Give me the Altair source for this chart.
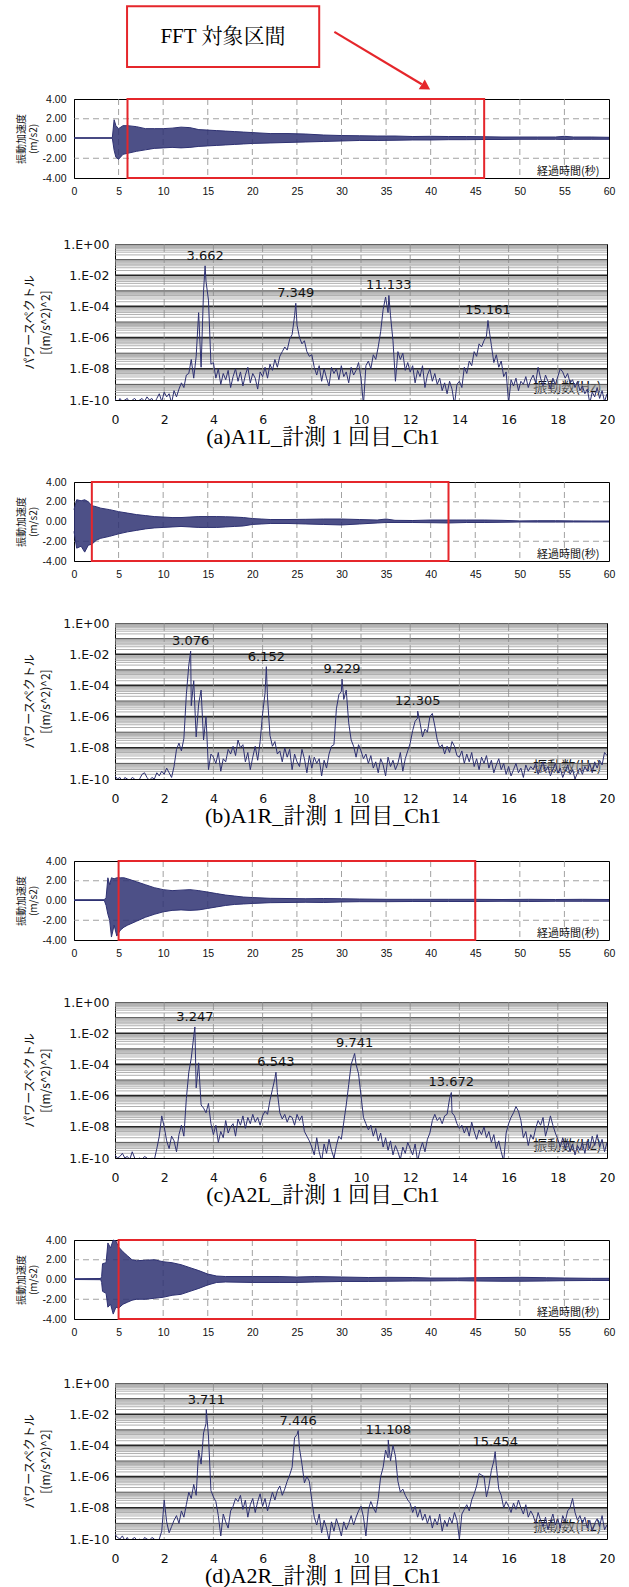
import altair as alt
import pandas as pd

# ---------------------------------------------------------------------------
# Acceleration records: envelope of the oscillation (time [s], upper, lower [m/s2])
# ---------------------------------------------------------------------------
ENV_A = [
    (0.0, 0.08, 0.02), (4.3, 0.08, 0.02), (4.5, 1.9, -1.2), (4.7, 1.3, -1.9), (5.0, 1.0, -2.1),
    (5.5, 1.3, -1.6), (6.0, 1.3, -1.5), (7.0, 1.2, -1.3), (8.0, 1.0, -1.15), (9.0, 1.0, -1.0),
    (10.0, 1.0, -0.95), (11.0, 1.05, -0.9), (12.0, 1.15, -0.95), (13.0, 1.1, -0.9), (14.0, 0.9, -0.8),
    (15.0, 0.85, -0.75), (16.0, 0.8, -0.7), (17.0, 0.75, -0.65), (18.0, 0.7, -0.6), (19.0, 0.65, -0.55),
    (20.0, 0.6, -0.5), (22.0, 0.5, -0.45), (24.0, 0.5, -0.4), (26.0, 0.45, -0.35), (28.0, 0.35, -0.3),
    (30.0, 0.3, -0.25), (32.0, 0.28, -0.2), (34.0, 0.25, -0.2), (36.0, 0.25, -0.18), (38.0, 0.2, -0.15),
    (40.0, 0.22, -0.15), (42.0, 0.2, -0.12), (44.0, 0.2, -0.12), (46.0, 0.18, -0.1), (48.0, 0.15, -0.1),
    (50.0, 0.15, -0.08), (52.0, 0.15, -0.08), (54.0, 0.15, -0.08), (55.0, 0.22, -0.1), (56.0, 0.15, -0.08),
    (58.0, 0.15, -0.08), (60.0, 0.12, -0.08),
]
ENV_B = [
    (0.0, 1.2, -1.0), (0.3, 2.2, -2.7), (0.8, 2.1, -2.5), (1.2, 2.2, -3.1), (1.6, 2.0, -2.4),
    (2.0, 1.6, -2.3), (2.5, 1.5, -1.9), (3.0, 1.35, -1.7), (4.0, 1.2, -1.5), (5.0, 1.0, -1.25),
    (6.0, 0.85, -1.05), (7.0, 0.7, -0.9), (8.0, 0.6, -0.75), (9.0, 0.5, -0.65), (10.0, 0.45, -0.6),
    (11.0, 0.4, -0.55), (12.0, 0.4, -0.5), (13.0, 0.45, -0.55), (14.0, 0.5, -0.6), (15.0, 0.5, -0.6),
    (16.0, 0.5, -0.6), (17.0, 0.48, -0.55), (18.0, 0.45, -0.5), (19.0, 0.4, -0.45), (20.0, 0.3, -0.3),
    (21.0, 0.25, -0.25), (22.0, 0.2, -0.2), (24.0, 0.2, -0.2), (26.0, 0.22, -0.25), (28.0, 0.25, -0.3),
    (30.0, 0.25, -0.35), (32.0, 0.2, -0.25), (34.0, 0.15, -0.15), (35.0, 0.25, -0.1), (36.0, 0.12, -0.1),
    (38.0, 0.1, -0.1), (40.0, 0.15, -0.12), (42.0, 0.15, -0.15), (44.0, 0.15, -0.1), (46.0, 0.15, -0.1),
    (48.0, 0.12, -0.08), (50.0, 0.06, -0.05), (52.0, 0.08, -0.06), (54.0, 0.08, -0.06), (56.0, 0.06, -0.05),
    (58.0, 0.05, -0.05), (60.0, 0.05, -0.05),
]
ENV_C = [
    (0.0, 0.08, 0.0), (3.4, 0.08, 0.0), (3.6, 0.3, -0.5), (3.8, 2.3, -1.4), (4.0, 1.6, -2.0),
    (4.2, 2.3, -3.7), (4.5, 2.2, -2.5), (4.8, 2.3, -3.6), (5.2, 2.3, -3.0), (5.6, 2.3, -2.7),
    (6.0, 2.2, -2.5), (7.0, 1.9, -2.1), (8.0, 1.6, -1.7), (9.0, 1.3, -1.4), (10.0, 1.1, -1.15),
    (11.0, 1.0, -1.0), (12.0, 1.05, -0.95), (13.0, 1.1, -1.0), (14.0, 1.0, -0.95), (15.0, 0.85, -0.8),
    (16.0, 0.7, -0.65), (17.0, 0.55, -0.5), (18.0, 0.45, -0.4), (19.0, 0.35, -0.35), (20.0, 0.3, -0.3),
    (22.0, 0.22, -0.22), (24.0, 0.2, -0.2), (26.0, 0.18, -0.18), (28.0, 0.2, -0.2), (30.0, 0.18, -0.15),
    (32.0, 0.15, -0.12), (35.0, 0.12, -0.12), (38.0, 0.12, -0.1), (40.0, 0.12, -0.1), (42.0, 0.12, -0.1),
    (45.0, 0.12, -0.1), (48.0, 0.1, -0.08), (51.0, 0.12, -0.1), (54.0, 0.1, -0.08), (57.0, 0.12, -0.08),
    (60.0, 0.1, -0.08),
]
ENV_D = [
    (0.0, 0.08, 0.0), (3.0, 0.1, -0.02), (3.1, 0.3, -0.3), (3.2, 1.6, -1.2), (3.6, 1.7, -1.4),
    (3.8, 3.7, -2.8), (4.1, 3.2, -2.5), (4.4, 4.0, -3.5), (4.7, 3.9, -2.8), (5.0, 3.3, -2.9),
    (5.5, 2.8, -2.5), (6.0, 2.4, -2.3), (6.5, 2.0, -2.1), (7.0, 1.9, -2.0), (8.0, 1.95, -2.0),
    (9.0, 2.0, -1.9), (10.0, 1.8, -1.8), (11.0, 1.7, -1.6), (12.0, 1.5, -1.5), (13.0, 1.2, -1.2),
    (14.0, 0.9, -0.9), (15.0, 0.55, -0.55), (16.0, 0.35, -0.3), (17.0, 0.3, -0.25), (20.0, 0.3, -0.3),
    (23.0, 0.3, -0.3), (25.0, 0.25, -0.3), (27.0, 0.3, -0.25), (30.0, 0.25, -0.2), (33.0, 0.2, -0.2),
    (35.0, 0.22, -0.18), (38.0, 0.2, -0.15), (40.0, 0.15, -0.15), (43.0, 0.15, -0.12), (45.0, 0.18, -0.15),
    (48.0, 0.2, -0.18), (50.0, 0.22, -0.18), (53.0, 0.18, -0.15), (55.0, 0.15, -0.12), (58.0, 0.12, -0.1),
    (60.0, 0.12, -0.1),
]

# FFT analysis windows (start, end) in seconds
WINDOWS = [(6, 46), (2, 42), (5, 45), (5, 45)]

# ---------------------------------------------------------------------------
# Power spectra: log10 of power, sampled every 0.1 Hz from 0 to 20 Hz
# ---------------------------------------------------------------------------
SPEC_A = [
    -9.9, -10.2, -9.9, -10.1, -10.0, -9.9, -10.2, -10.0, -9.9, -10.1,
    -10.0, -9.9, -10.1, -9.8, -10.0, -9.9, -10.2, -9.9, -9.6, -10.1,
    -9.5, -9.8, -9.6, -10.2, -9.4, -9.8, -9.3, -8.9, -9.2, -8.4,
    -8.3, -7.4, -8.6, -7.2, -4.4, -7.9, -3.0, -2.4, -3.6, -7.7,
    -7.6, -8.6, -8.0, -9.0, -8.3, -8.7, -8.1, -9.2, -8.5, -8.0,
    -8.8, -8.2, -9.1, -8.4, -7.9, -8.9, -8.3, -8.6, -9.3, -8.2,
    -8.5, -7.9, -8.6, -7.7, -8.1, -7.4, -7.9, -7.2, -6.9, -6.6,
    -6.8, -6.1, -5.8, -4.6, -5.2, -6.0, -6.4, -6.2, -6.9, -7.2,
    -7.1, -7.9, -8.4, -7.8, -8.8, -8.0, -8.6, -9.1, -7.9, -8.3,
    -8.0, -8.7, -7.8, -8.5, -8.2, -8.9, -7.9, -8.4, -8.1, -7.6,
    -8.6, -10.3, -7.8, -7.5, -8.0, -7.1, -7.4, -6.6, -5.6, -4.2,
    -3.4, -4.4, -4.6, -6.2, -8.8, -6.9, -7.4, -7.0, -8.1, -7.6,
    -8.2, -7.8, -8.9, -8.1, -8.5, -7.8, -9.2, -8.4, -8.0, -8.8,
    -8.3, -9.0, -8.6, -9.4, -8.9, -9.6, -8.8, -9.3, -10.3, -9.0,
    -8.8, -9.2, -7.9, -8.3, -7.5, -7.8, -6.9, -7.2, -6.4, -6.6,
    -6.2, -5.9, -5.4, -6.5, -7.6, -7.1, -7.9, -7.5, -8.5, -8.2,
    -10.2, -8.7, -9.1, -8.6, -9.4, -8.8, -9.0, -8.5, -9.2, -8.7,
    -8.4, -8.9, -7.9, -8.6, -9.1, -8.4, -8.8, -9.3, -8.6, -9.0,
    -8.5, -8.0, -8.2, -8.6, -8.3, -8.9, -8.7, -9.2, -8.8, -9.4,
    -9.1, -9.6, -9.3, -10.2, -9.5, -9.8, -9.2, -9.9, -9.4, -10.1,
    -9.6,
]
SPEC_B = [
    -9.8, -10.0, -9.9, -10.2, -9.9, -10.0, -10.1, -9.9, -10.0, -10.2,
    -10.0, -9.7, -9.6, -9.9, -10.1, -9.9, -10.0, -9.6, -9.8, -9.5,
    -9.7, -9.3, -9.6, -9.9, -9.2, -8.1, -7.7, -8.2, -7.4, -4.6,
    -2.7, -5.3, -3.7, -7.3, -5.2, -4.3, -7.5, -6.0, -9.4, -8.4,
    -8.6, -9.0, -8.3, -9.5, -8.7, -8.9, -8.1, -8.4, -7.9, -8.5,
    -7.5, -8.0, -7.8, -8.9, -8.3, -9.4, -8.6, -7.9, -8.8, -7.6,
    -5.8, -4.5, -4.8, -7.2, -7.9, -7.6, -8.4, -8.2, -8.9, -8.0,
    -8.6, -8.1, -9.4, -8.4, -8.9, -9.2, -8.1, -8.7, -9.6, -8.5,
    -9.3, -8.6, -9.0, -8.7, -9.8, -8.8, -9.3, -8.4, -7.9, -7.8,
    -5.5, -4.6, -4.4, -4.9, -4.3, -6.4, -7.5, -7.9, -8.6, -7.8,
    -8.2, -8.7, -8.4, -9.0, -8.5, -9.3, -8.9, -9.6, -8.7, -9.1,
    -9.8, -8.6, -9.2, -8.8, -9.4, -9.0, -8.3, -9.5, -8.7, -8.2,
    -7.7, -6.9, -6.3, -6.1, -6.4, -7.3, -6.8, -7.0, -6.0, -5.8,
    -6.6, -7.5, -8.0, -7.8, -8.4, -7.9, -8.3, -7.6, -7.9, -8.5,
    -8.6, -8.2, -9.0, -8.4, -8.9, -8.3, -9.2, -8.7, -9.4, -8.6,
    -9.0, -8.5, -9.3, -8.8, -9.6, -9.1, -8.7, -9.4, -9.0, -9.7,
    -9.2, -9.8, -9.4, -9.0, -9.6, -9.3, -9.9, -9.1, -9.5, -9.2,
    -9.4, -9.0, -9.7, -9.3, -8.9, -9.5, -9.2, -9.8, -9.4, -9.0,
    -9.6, -9.3, -9.9, -9.5, -9.1, -9.7, -9.4, -10.0, -9.6, -9.3,
    -9.7, -9.2, -9.5, -9.0, -9.6, -8.9, -9.3, -8.8, -9.1, -8.3,
    -8.5,
]
SPEC_C = [
    -9.8, -10.0, -9.9, -9.7, -10.0, -9.9, -10.1, -9.6, -10.0, -10.1,
    -10.0, -10.1, -9.9, -10.0, -10.2, -10.0, -10.1, -9.4, -8.6, -7.3,
    -8.0, -8.9, -9.4, -8.6, -8.9, -9.6, -8.5, -7.9, -8.6, -6.2,
    -4.5, -3.6, -2.2, -5.5, -3.9, -6.6, -6.8, -7.1, -6.5, -7.8,
    -8.5, -7.9, -9.0, -8.3, -8.7, -7.6, -8.4, -8.0, -7.8, -8.6,
    -7.5, -7.9, -7.3, -8.1, -7.4, -7.8, -7.2, -7.7, -7.4, -7.9,
    -7.3, -7.0, -7.2, -6.3, -5.6, -4.9, -5.8, -7.1, -7.5, -7.2,
    -7.7, -7.3, -7.4, -7.9, -7.2, -7.6, -7.3, -8.3, -8.6, -8.9,
    -9.3, -9.8, -8.7, -9.6, -10.2, -9.1, -9.7, -8.8, -9.5, -10.0,
    -9.2, -8.6, -8.8, -7.7, -6.6, -5.3, -4.0, -3.5, -4.0, -4.6,
    -6.0, -7.4, -7.8, -8.2, -7.9, -8.6, -8.1, -8.9, -8.4, -9.3,
    -8.7, -9.5, -8.9, -9.8, -9.2, -9.6, -10.1, -9.3, -9.7, -9.0,
    -9.4, -9.8, -9.1, -10.2, -9.5, -9.0, -9.6, -8.8, -8.4, -7.6,
    -7.2, -7.6, -7.4, -7.8, -7.3, -7.2, -6.2, -7.1, -7.3, -7.8,
    -8.1, -7.9, -8.4, -8.0, -8.6, -7.7, -8.3, -8.8, -8.2, -8.5,
    -8.0, -8.7, -8.3, -9.0, -8.5, -9.4, -8.9, -9.6, -10.2, -8.4,
    -7.8, -7.4, -7.1, -6.7, -7.0, -7.6, -8.7, -8.3, -9.2, -8.5,
    -8.8, -8.1, -7.6, -7.9, -7.4, -8.6, -8.0, -7.3, -7.9, -8.4,
    -8.8, -9.3, -8.7, -9.4, -8.9, -9.6, -9.1, -9.8, -9.2, -9.5,
    -9.0, -9.7, -8.9, -9.4, -8.6, -9.2, -8.5, -9.3, -8.8, -9.6,
    -9.0,
]
SPEC_D = [
    -9.7, -9.9, -10.0, -9.8, -10.1, -9.9, -10.2, -10.0, -9.9, -10.1,
    -10.0, -10.2, -9.9, -10.0, -10.1, -9.9, -10.0, -10.2, -10.0, -9.5,
    -7.5, -8.9, -9.6, -9.2, -8.8, -8.5, -9.0, -8.2, -8.6, -7.8,
    -7.0, -7.4, -6.5, -7.2, -4.3, -5.2, -3.2, -2.6, -3.4, -6.9,
    -7.3, -7.6, -8.5, -9.8, -8.4, -8.9, -9.3, -8.2, -7.9, -7.4,
    -7.6, -7.2, -8.1, -7.5, -8.6, -7.8, -7.4, -8.3, -7.6, -7.1,
    -7.9, -7.4, -8.2, -7.6, -7.0, -7.5, -6.9, -6.6, -7.2, -6.8,
    -6.3, -5.9, -5.4, -3.5, -3.3, -4.2, -5.2, -6.4, -6.0, -6.3,
    -7.5, -8.6, -9.1, -8.4, -9.6, -8.8, -9.3, -10.1, -8.9, -9.5,
    -8.7, -9.2, -9.8, -8.9, -9.4, -9.0, -8.5, -9.1, -8.6, -8.2,
    -7.9, -8.6, -9.8, -8.1, -7.6, -8.0, -8.3, -7.4, -6.0, -5.4,
    -4.3, -4.8, -5.0, -4.0, -4.7, -6.3, -7.0, -6.8, -7.2, -7.5,
    -7.7, -8.3, -7.9, -8.6, -8.1, -8.8, -8.4, -9.0, -8.5, -9.3,
    -8.7, -9.1, -8.4, -9.5, -8.8, -9.2, -8.6, -9.0, -8.3, -8.8,
    -10.0, -8.4, -8.1, -7.8, -8.2, -7.5, -7.1, -6.6, -5.8, -5.9,
    -6.0, -7.3, -6.6, -5.6, -5.0, -5.3, -6.8, -7.2, -8.0, -7.6,
    -7.9, -8.3, -7.7, -8.1, -7.5, -8.0, -8.4, -7.8, -8.6, -8.2,
    -8.5, -9.0, -8.3, -8.8, -9.2, -8.6, -9.4, -8.9, -8.4, -9.1,
    -8.7, -9.3, -8.5, -8.9, -8.2, -8.0, -7.4, -8.3, -8.8, -8.5,
    -9.0, -8.6, -9.3, -8.8, -9.5, -9.0, -8.7, -9.2, -8.5, -9.4,
    -9.1,
]

# Labelled spectral peaks: (frequency [Hz], log10 power)
PEAKS_A = [(3.662, -1.4), (7.349, -3.8), (11.133, -3.3), (15.161, -4.9)]
PEAKS_B = [(3.076, -1.8), (6.152, -2.8), (9.229, -3.6), (12.305, -5.65)]
PEAKS_C = [(3.247, -1.6), (6.543, -4.5), (9.741, -3.3), (13.672, -5.8)]
PEAKS_D = [(3.711, -1.7), (7.446, -3.05), (11.108, -3.65), (15.454, -4.4)]

CAPTIONS = [
    "(a)A1L_計測 1 回目_Ch1",
    "(b)A1R_計測 1 回目_Ch1",
    "(c)A2L_計測 1 回目_Ch1",
    "(d)A2R_計測 1 回目_Ch1",
]

# Callout above the first record (time-axis units / acceleration units)
CALLOUT_TEXT = "FFT 対象区間"
CALLOUT_BOX = (5.95, 27.5, 7.25, 13.4)
CALLOUT_LABEL_AT = (16.7, 10.3)
ARROW_LINE = (29.2, 10.8, 39.0, 5.5)
ARROW_HEAD = (39.47, 5.22)

# Gridlines
TIME_GRID_T = list(range(5, 60, 5))
TIME_GRID_A = [-2, 2]
SPEC_GRID_F = list(range(2, 20, 2))
SPEC_MINOR = [k * 10.0 ** e for e in range(-10, 0) for k in range(2, 10)]
SPEC_ODD = [10.0 ** e for e in (-9, -7, -5, -3, -1)]
SPEC_EVEN = [10.0 ** e for e in (-8, -6, -4, -2)]
SPEC_LABELS = [1.0, 1e-2, 1e-4, 1e-6, 1e-8, 1e-10]

# ---------------------------------------------------------------------------
NAVY = "#2e3172"
RED = "#e5262b"
GRID = "#8a8a8a"
INK = "#111111"
SANS = "Liberation Sans, Arial, sans-serif"
WIDE = "DejaVu Sans, Liberation Sans, sans-serif"
JP = "Noto Sans CJK JP, sans-serif"
SERIF = "Liberation Serif, Noto Serif CJK JP, Noto Sans CJK JP, serif"

TIME_W, TIME_H = 535, 79
SPEC_W, SPEC_H = 492, 156

TIME_X_AXIS = alt.Axis(
    values=list(range(0, 61, 5)), labelFont=SANS, labelFontSize=10.5, labelColor=INK,
    labelPadding=8, labelFlush=False, ticks=False, domain=False, grid=False,
    title="経過時間(秒)", titleFont=JP, titleFontSize=11, titleFontWeight="normal",
    titleColor=INK, titleAlign="right", titleBaseline="bottom",
    titleX=TIME_W - 10, titleY=-2,
)
TIME_Y_AXIS = alt.Axis(
    values=[-4, -2, 0, 2, 4],
    labelExpr="replace(format(datum.value, '.2f'), '\u2212', '-')",
    labelFont=SANS, labelFontSize=10.5, labelColor=INK, labelPadding=8,
    ticks=False, domain=True, domainColor="#000", grid=False,
    title=["振動加速度", "(m/s2)"], titleFont=JP, titleFontSize=10,
    titleFontWeight="normal", titleColor=INK, titlePadding=2, titleLineHeight=12,
    minExtent=34, maxExtent=34,
)
SPEC_X_AXIS = alt.Axis(
    values=list(range(0, 21, 2)), labelFont=WIDE, labelFontSize=12.5, labelColor=INK,
    labelPadding=13, labelFlush=False, ticks=False, domain=False, grid=False,
    title="振動数(Hz)", titleFont=JP, titleFontSize=14, titleFontWeight="normal",
    titleColor=INK, titleAlign="right", titleBaseline="bottom",
    titleX=SPEC_W - 6, titleY=-6,
)
SPEC_Y_AXIS = alt.Axis(
    values=SPEC_LABELS,
    labelExpr="'1.E' + (datum.value >= 1 ? '+00' : '-' + (datum.value > 1.5e-10 ? '0' : '')"
              " + round(-log(datum.value) / LN10))",
    labelFont=WIDE, labelFontSize=12.5, labelColor=INK, labelPadding=6,
    ticks=False, domain=True, domainColor="#000", grid=False,
    title=["パワースペクトル", "[(m/s^2)^2]"], titleFont=JP, titleFontSize=12,
    titleFontWeight="normal", titleColor=INK, titlePadding=5, titleLineHeight=16,
    minExtent=58, maxExtent=58,
)


def time_chart(env, window, callout=False):
    xs = alt.Scale(domain=[0, 60], nice=False)
    ys = alt.Scale(domain=[-4, 4], nice=False)

    def X(field):
        return alt.X(field, type="quantitative", scale=xs, axis=TIME_X_AXIS)

    def Y(field):
        return alt.Y(field, type="quantitative", scale=ys, axis=TIME_Y_AXIS)

    sig = pd.DataFrame(env, columns=["t", "up", "lo"])

    grid_t = alt.Chart(pd.DataFrame({"t": TIME_GRID_T})).mark_rule(
        color=GRID, strokeDash=[6, 4], strokeWidth=0.8
    ).encode(x=X("t"))
    grid_a = alt.Chart(pd.DataFrame({"up": TIME_GRID_A})).mark_rule(
        color=GRID, strokeDash=[6, 4], strokeWidth=0.8
    ).encode(y=Y("up"))
    band = alt.Chart(sig).mark_area(color=NAVY, opacity=0.85).encode(
        x=X("t"), y=Y("up"), y2="lo:Q"
    )
    edge_up = alt.Chart(sig).mark_line(color=NAVY, strokeWidth=1).encode(x=X("t"), y=Y("up"))
    edge_lo = alt.Chart(sig).mark_line(color=NAVY, strokeWidth=1).encode(x=X("t"), y=Y("lo"))
    win = alt.Chart(pd.DataFrame([{"t": window[0], "e": window[1], "up": -4, "hi": 4}])).mark_rect(
        fillOpacity=0, stroke=RED, strokeWidth=2
    ).encode(x=X("t"), x2="e:Q", y=Y("up"), y2="hi:Q")
    layers = [grid_t, grid_a, band, edge_up, edge_lo, win]

    if callout:
        t0, t1, a0, a1 = CALLOUT_BOX
        box = alt.Chart(pd.DataFrame([{"t": t0, "t1": t1, "up": a0, "a1": a1}])).mark_rect(
            fill="white", stroke=RED, strokeWidth=2
        ).encode(x=X("t"), x2="t1:Q", y=Y("up"), y2="a1:Q")
        label = alt.Chart(pd.DataFrame([{
            "t": CALLOUT_LABEL_AT[0], "up": CALLOUT_LABEL_AT[1], "s": CALLOUT_TEXT
        }])).mark_text(font=SERIF, fontSize=21, color="#000").encode(
            x=X("t"), y=Y("up"), text="s:N"
        )
        shaft = alt.Chart(pd.DataFrame([{
            "t": ARROW_LINE[0], "up": ARROW_LINE[1], "t2": ARROW_LINE[2], "a2": ARROW_LINE[3]
        }])).mark_rule(color=RED, strokeWidth=2.2).encode(
            x=X("t"), y=Y("up"), x2="t2:Q", y2="a2:Q"
        )
        head = alt.Chart(pd.DataFrame([{"t": ARROW_HEAD[0], "up": ARROW_HEAD[1]}])).mark_point(
            shape="triangle-right", filled=True, color=RED, opacity=1, size=130, angle=32
        ).encode(x=X("t"), y=Y("up"))
        layers += [box, label, shaft, head]

    return alt.layer(*layers).properties(width=TIME_W, height=TIME_H)


def spec_chart(values, peaks, caption):
    xs = alt.Scale(domain=[0, 20], nice=False)
    ys = alt.Scale(type="log", domain=[1e-10, 1], nice=False)

    def X(field):
        return alt.X(field, type="quantitative", scale=xs, axis=SPEC_X_AXIS)

    def Y(field):
        return alt.Y(field, type="quantitative", scale=ys, axis=SPEC_Y_AXIS)

    pts = sorted([(i / 10, v) for i, v in enumerate(values)] + list(peaks))
    sp = pd.DataFrame(pts, columns=["f", "lp"])
    sp["p"] = 10.0 ** sp["lp"]
    pk = pd.DataFrame(list(peaks), columns=["f", "lp"])
    pk["p"] = 10.0 ** pk["lp"]
    pk["label"] = pk["f"].map(lambda v: f"{v:.3f}")

    def hlines(vals, color, width):
        return alt.Chart(pd.DataFrame({"p": vals})).mark_rule(color=color, strokeWidth=width).encode(
            y=Y("p")
        )

    minor = hlines(SPEC_MINOR, "#9a9a9a", 0.8)
    odd = hlines(SPEC_ODD, "#555555", 1.0)
    even = hlines(SPEC_EVEN, "#262626", 1.6)
    vgrid = alt.Chart(pd.DataFrame({"f": SPEC_GRID_F})).mark_rule(
        color=GRID, strokeDash=[8, 3], strokeWidth=0.8
    ).encode(x=X("f"))
    line = alt.Chart(sp).mark_line(color=NAVY, strokeWidth=1, clip=True).encode(x=X("f"), y=Y("p"))
    tags = alt.Chart(pk).mark_text(
        font=WIDE, fontSize=13, color=INK, baseline="bottom", dy=-3
    ).encode(x=X("f"), y=Y("p"), text="label:N")
    return alt.layer(minor, odd, even, vgrid, line, tags).properties(
        width=SPEC_W, height=SPEC_H,
        title=alt.TitleParams(
            text=caption, orient="bottom", anchor="middle", frame="bounds",
            font=SERIF, fontSize=22, fontWeight="normal", color="#000", offset=1, dx=4,
        ),
    )


def spacer(w):
    return alt.Chart(pd.DataFrame({"v": [0]})).mark_point(opacity=0).encode(
        x=alt.X("v:Q", axis=None), y=alt.Y("v:Q", axis=None)
    ).properties(width=w, height=1, view=alt.ViewBackground(stroke="transparent"))


envs = [ENV_A, ENV_B, ENV_C, ENV_D]
specs = [SPEC_A, SPEC_B, SPEC_C, SPEC_D]
peaks = [PEAKS_A, PEAKS_B, PEAKS_C, PEAKS_D]
inner_gap = [40, 36, 36, 38]

sections = []
for k in range(4):
    t_row = alt.hconcat(spacer(3), time_chart(envs[k], WINDOWS[k], callout=(k == 0)), spacing=0)
    s_row = alt.hconcat(spacer(11), spec_chart(specs[k], peaks[k], CAPTIONS[k]), spacing=0)
    sections.append(alt.vconcat(t_row, s_row, spacing=inner_gap[k]))

chart = alt.vconcat(*sections, spacing=28).properties(
    padding={"left": 8, "top": 4, "right": 6, "bottom": 4},
    background="white",
).configure_view(stroke="#000", strokeWidth=1)

chart.save("out.html", embed_options={"renderer": "svg", "actions": False})
